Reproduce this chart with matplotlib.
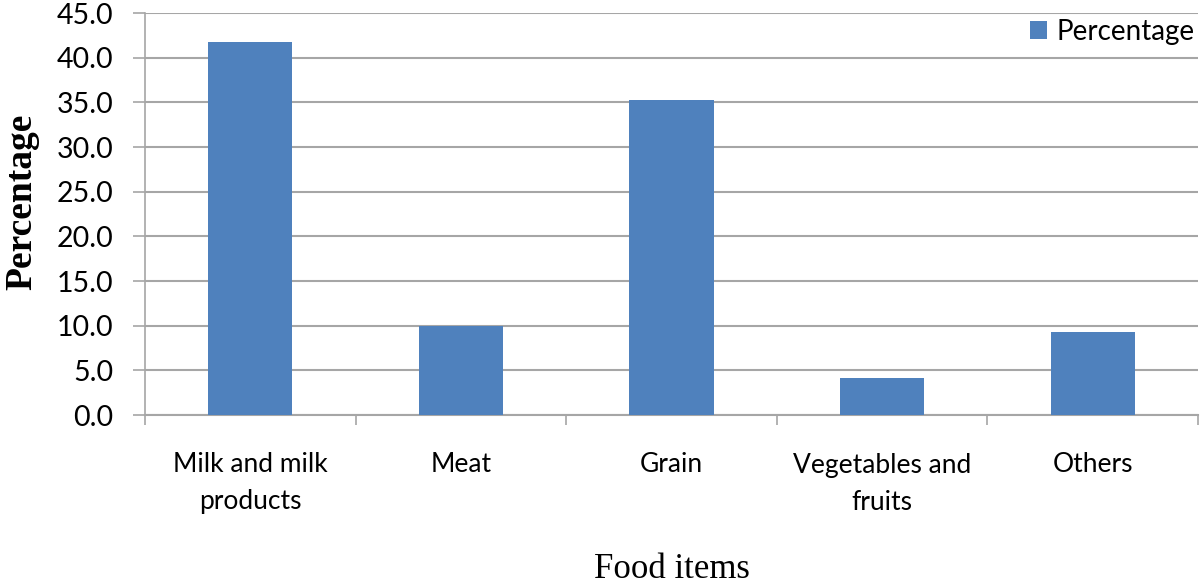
import matplotlib
matplotlib.use("Agg")
import matplotlib.pyplot as plt
import numpy as np
from matplotlib.ticker import FixedLocator, NullFormatter

categories = ["Milk and milk\nproducts", "Meat", "Grain", "Vegetables and\nfruits", "Others"]
percentage = [41.8, 10.0, 35.3, 4.1, 9.3]
yticks = [0, 5, 10, 15, 20, 25, 30, 35, 40, 45]

BAR = "#4F81BD"
GRID = "#A6A6A6"
SANS = ["Lato", "DejaVu Sans"]
SERIF = ["Liberation Serif", "DejaVu Serif"]

fig = plt.figure(figsize=(12, 5.86), dpi=100)
ax = fig.add_axes([145/1200, 1-415/586, (1198-145)/1200, (415-13)/586])

x = np.arange(len(categories))
ax.bar(x, percentage, width=0.4, color=BAR, label="Percentage", zorder=3)

ax.set_xlim(-0.5, len(categories)-0.5)
ax.set_ylim(0, 45)
ax.set_yticks(yticks)
ax.set_yticklabels([f"{v:.1f}" for v in yticks], fontfamily=SANS, fontsize=20.5)
ax.yaxis.grid(True, color=GRID, linewidth=1.5, zorder=0)
ax.tick_params(axis="y", length=9, width=1.2, color=GRID, pad=14, labelcolor="black")

ax.xaxis.set_major_locator(FixedLocator(np.arange(len(categories)+1)-0.5))
ax.xaxis.set_major_formatter(NullFormatter())
ax.xaxis.set_minor_locator(FixedLocator(x))
ax.set_xticklabels(categories, minor=True, fontfamily=SANS, fontsize=19, linespacing=1.6, va="top")
ax.tick_params(axis="x", which="major", length=7, width=1.2, color=GRID, direction="out")
ax.tick_params(axis="x", which="minor", length=0, pad=27)

for s in ["top", "right"]:
    ax.spines[s].set_visible(False)
ax.spines["left"].set_color(GRID)
ax.spines["left"].set_linewidth(1.2)
ax.spines["bottom"].set_color(GRID)
ax.spines["bottom"].set_linewidth(1.5)

ax.set_ylabel("Percentage", fontfamily=SERIF, fontweight="bold", fontsize=27)
ax.yaxis.set_label_coords(-0.1, 0.53)
ax.set_xlabel("Food items", fontfamily=SERIF, fontsize=25, labelpad=28)

leg = ax.legend(loc="upper right", bbox_to_anchor=(1.01, 1.02), frameon=False,
                prop={"family": SANS, "size": 20}, handlelength=0.6, handleheight=0.6,
                handletextpad=0.35, borderaxespad=0.1)

fig.savefig("out.png", dpi=100)
